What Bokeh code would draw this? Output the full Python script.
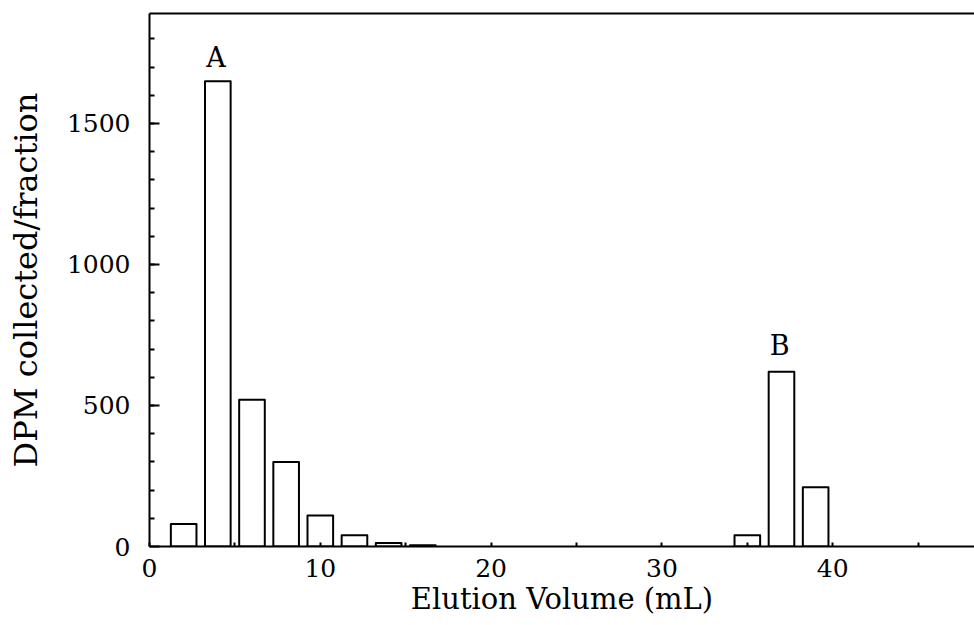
from bokeh.plotting import figure
from bokeh.models import Range1d, LinearAxis, FixedTicker
from bokeh.core.properties import value
from bokeh.embed import file_html
from bokeh.resources import INLINE

# Data
volume = [2, 4, 6, 8, 10, 12, 14, 16, 35, 37, 39]          # Elution volume (mL), bar centres
dpm = [80, 1650, 520, 300, 110, 40, 12, 4, 40, 620, 210]   # DPM collected/fraction
peak_labels = ["A", "B"]
peak_x = [3.9, 36.9]
peak_y = [1733, 714]
x_ticks = [0, 10, 20, 30, 40]
x_minor = [5, 15, 25, 35, 45]
y_ticks = [0, 500, 1000, 1500]
y_minor = list(range(100, 1900, 100))
x_title = "Elution Volume (mL)"
y_title = "DPM collected/fraction"

FONT = "DejaVu Serif"

p = figure(width=974, height=625,
           x_range=Range1d(0, 48.3), y_range=Range1d(0, 1890),
           output_backend="svg", toolbar_location=None,
           min_border_left=149, min_border_right=0,
           min_border_top=13, min_border_bottom=79)
p.outline_line_color = None
p.grid.visible = False
p.background_fill_color = "white"
p.border_fill_color = "white"

p.vbar(x=volume, top=dpm, bottom=0, width=1.5,
       fill_color="white", line_color="black", line_width=2, line_join="round")

p.text(x=peak_x, y=peak_y, text=peak_labels,
       text_font=value(FONT), text_font_size="27px",
       text_align="center", text_baseline="middle", text_color="black")

# x axis
xa = p.xaxis[0]
xa.ticker = FixedTicker(ticks=x_ticks, minor_ticks=x_minor)
xa.axis_label = x_title
xa.axis_label_text_font = FONT
xa.axis_label_text_font_size = "29px"
xa.axis_label_text_font_style = "normal"
xa.axis_label_text_color = "black"
xa.axis_label_standoff = 2
xa.major_label_text_font = FONT
xa.major_label_text_font_size = "25px"
xa.major_label_text_color = "black"
xa.major_label_standoff = 12
xa.major_tick_in = 4
xa.major_tick_out = 0
xa.minor_tick_in = 4
xa.minor_tick_out = 0
xa.axis_line_width = 2
xa.axis_line_color = "black"
xa.major_tick_line_width = 2
xa.minor_tick_line_width = 2
xa.major_tick_line_color = "black"
xa.minor_tick_line_color = "black"

# y axis
ya = p.yaxis[0]
ya.ticker = FixedTicker(ticks=y_ticks, minor_ticks=y_minor)
ya.axis_label = y_title
ya.axis_label_text_font = FONT
ya.axis_label_text_font_size = "32px"
ya.axis_label_text_font_style = "normal"
ya.axis_label_text_color = "black"
ya.axis_label_standoff = 19
ya.major_label_text_font = FONT
ya.major_label_text_font_size = "25px"
ya.major_label_text_color = "black"
ya.major_label_standoff = 19
ya.major_tick_in = 10
ya.major_tick_out = 0
ya.minor_tick_in = 5
ya.minor_tick_out = 0
ya.axis_line_width = 2
ya.axis_line_color = "black"
ya.major_tick_line_width = 2
ya.minor_tick_line_width = 2
ya.major_tick_line_color = "black"
ya.minor_tick_line_color = "black"

# top border line
top = LinearAxis(ticker=FixedTicker(ticks=[]), axis_line_width=2, axis_line_color="black",
                 major_tick_out=0, minor_tick_out=0, major_label_standoff=0,
                 major_label_text_font_size="0px")
p.add_layout(top, "above")

open("out.html", "w").write(file_html(p, INLINE))
